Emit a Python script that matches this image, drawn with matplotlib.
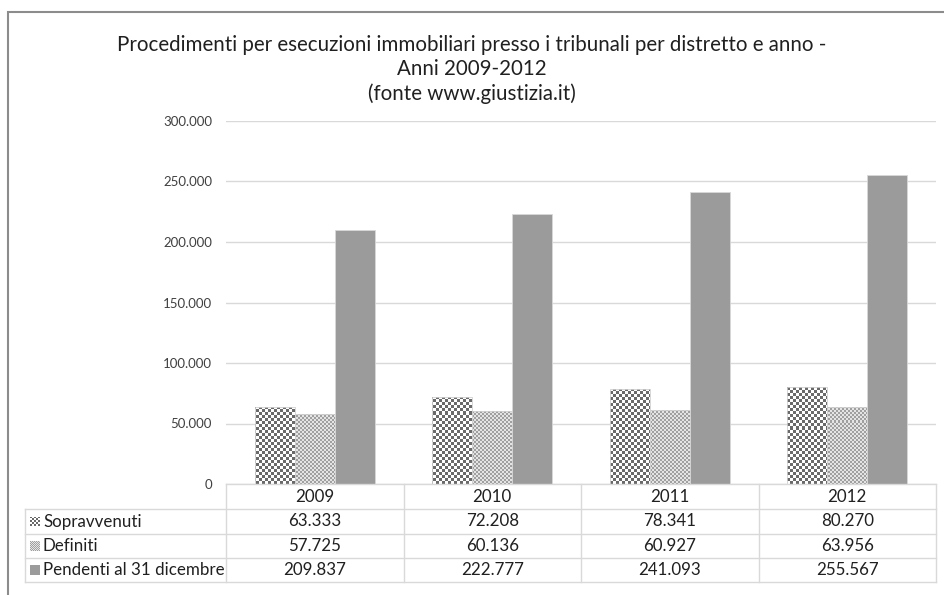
import numpy as np
import matplotlib
matplotlib.use('Agg')
import matplotlib.pyplot as plt
from matplotlib.patches import Rectangle
from matplotlib.lines import Line2D

years = ['2009', '2010', '2011', '2012']
series = ['Sopravvenuti', 'Definiti', 'Pendenti al 31 dicembre']
sopravvenuti = [63333, 72208, 78341, 80270]
definiti = [57725, 60136, 60927, 63956]
pendenti = [209837, 222777, 241093, 255567]
yticks = [0, 50000, 100000, 150000, 200000, 250000, 300000]

W, H = 944, 595
plt.rcParams['font.family'] = ['Lato', 'DejaVu Sans']


def fx(px):
    return px / W


def fy(py):
    return 1 - py / H


def fmt(v):
    if v == 0:
        return '0'
    return f'{v:,}'.replace(',', '.')


def checker(cell, c1, c2, nx, ny):
    yy, xx = np.mgrid[0:ny, 0:nx]
    m = ((xx // cell + yy // cell) % 2).astype(float)
    img = np.zeros((ny, nx, 3))
    img[:] = np.array(matplotlib.colors.to_rgb(c1))
    img[m == 1] = np.array(matplotlib.colors.to_rgb(c2))
    return img


fig = plt.figure(figsize=(W / 100, H / 100), dpi=100)

# outer frame
fig.add_artist(Rectangle((fx(8), fy(600)), 1.0, fy(12) - fy(600), transform=fig.transFigure,
                         fill=False, edgecolor='#8c8c8c', linewidth=1.5))

ax_l, ax_r, ax_t, ax_b = 226, 936, 121, 484
ax = fig.add_axes([fx(ax_l), fy(ax_b), fx(ax_r) - fx(ax_l), fy(ax_t) - fy(ax_b)])

x = np.arange(len(years))
w = 0.225

# textures
nx, ny = ax_r - ax_l, ax_b - ax_t
tex1 = checker(3, '#6a6a6a', '#ffffff', nx, ny)
tex2 = checker(2, '#a0a0a0', '#e4e4e4', nx, ny)
ext = [-0.5, len(years) - 0.5, 0, 300000]

b1 = ax.bar(x - w, sopravvenuti, w, facecolor='none', edgecolor='#d0d0d0', linewidth=0.6, zorder=3)
b2 = ax.bar(x, definiti, w, facecolor='none', edgecolor='#d0d0d0', linewidth=0.6, zorder=3)
b3 = ax.bar(x + w, pendenti, w, color='#9b9b9b', edgecolor='#d8d8d8', linewidth=0.6, zorder=3)

for bars, tex in [(b1, tex1), (b2, tex2)]:
    for p in bars:
        im = ax.imshow(tex, extent=ext, aspect='auto', interpolation='nearest', origin='upper', zorder=2)
        im.set_clip_path(p)

ax.set_xlim(-0.5, len(years) - 0.5)
ax.set_ylim(0, 300000)
ax.set_yticks(yticks)
ax.set_yticklabels([fmt(v) for v in yticks], fontsize=9.5, color='#404040')
ax.set_xticks([])
ax.tick_params(axis='y', length=0, pad=10)
ax.grid(axis='y', color='#d9d9d9', linewidth=1)
ax.set_axisbelow(True)
for s in ax.spines.values():
    s.set_visible(False)

# title
tkw = dict(ha='center', va='center', fontsize=14.8, color='#202020')
fig.text(0.5, fy(45), 'Procedimenti per esecuzioni immobiliari presso i tribunali per distretto e anno -', **tkw)
fig.text(0.5, fy(69), 'Anni 2009-2012', **tkw)
fig.text(0.5, fy(94), '(fonte www.giustizia.it)', **tkw)

# data table
lc = '#d9d9d9'
cols = [ax_l + (ax_r - ax_l) * i / len(years) for i in range(len(years) + 1)]
rows = [484, 509, 534, 558, 582]
tab_l = 25


def hline(y, x0, x1):
    fig.add_artist(Line2D([fx(x0), fx(x1)], [fy(y), fy(y)], transform=fig.transFigure, color=lc, lw=1))


def vline(xp, y0, y1):
    fig.add_artist(Line2D([fx(xp), fx(xp)], [fy(y0), fy(y1)], transform=fig.transFigure, color=lc, lw=1))


hline(rows[0], ax_l, ax_r)
for r in rows[1:]:
    hline(r, tab_l, ax_r)
for c in cols:
    vline(c, rows[0], rows[-1])
vline(tab_l, rows[1], rows[-1])

fs = 12.2
for i, yr in enumerate(years):
    cx = (cols[i] + cols[i + 1]) / 2
    fig.text(fx(cx), fy((rows[0] + rows[1]) / 2), yr, ha='center', va='center', fontsize=fs, color='#202020')

data = [sopravvenuti, definiti, pendenti]
keytex = [checker(2, '#6a6a6a', '#ffffff', 10, 10), checker(1, '#a0a0a0', '#e4e4e4', 10, 10), None]
for j, (name, vals) in enumerate(zip(series, data)):
    cy = (rows[j + 1] + rows[j + 2]) / 2
    kax = fig.add_axes([fx(30), fy(cy + 5), 10 / W, 10 / H])
    kax.set_axis_off()
    if keytex[j] is not None:
        kax.imshow(keytex[j], interpolation='nearest', aspect='auto')
    else:
        kax.add_patch(Rectangle((0, 0), 1, 1, color='#9b9b9b'))
        kax.set_xlim(0, 1)
        kax.set_ylim(0, 1)
    fig.text(fx(43), fy(cy), name, ha='left', va='center', fontsize=fs, color='#202020')
    for i, v in enumerate(vals):
        cx = (cols[i] + cols[i + 1]) / 2
        fig.text(fx(cx), fy(cy), fmt(v), ha='center', va='center', fontsize=fs, color='#202020')

fig.savefig('out.png', dpi=100)
